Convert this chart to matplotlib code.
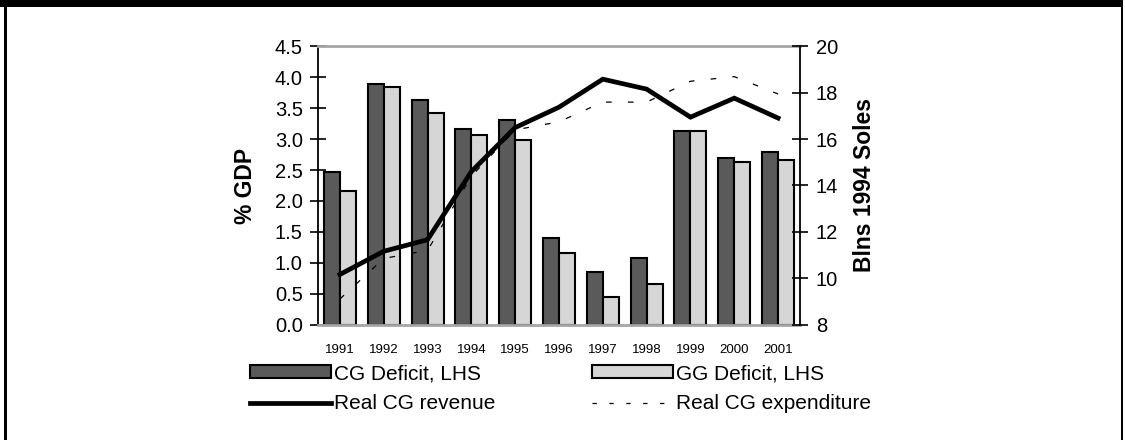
import matplotlib
matplotlib.use("Agg")
import matplotlib.pyplot as plt
import numpy as np
from matplotlib.patches import Patch, Rectangle
from matplotlib.lines import Line2D

plt.rcParams['font.family'] = ['Liberation Sans', 'DejaVu Sans']

years = ['1991', '1992', '1993', '1994', '1995', '1996',
         '1997', '1998', '1999', '2000', '2001']
cg_deficit = [2.47, 3.90, 3.63, 3.16, 3.31, 1.40, 0.85, 1.08, 3.14, 2.70, 2.79]
gg_deficit = [2.16, 3.85, 3.43, 3.07, 2.98, 1.15, 0.45, 0.65, 3.13, 2.63, 2.66]
cg_revenue = [10.16, 11.16, 11.66, 14.6, 16.5, 17.38, 18.59, 18.16, 16.95, 17.77, 16.91]
cg_expenditure = [9.1, 10.85, 11.2, 14.4, 16.4, 16.75, 17.6, 17.6, 18.5, 18.7, 17.95]

left_ticks = [0.0, 0.5, 1.0, 1.5, 2.0, 2.5, 3.0, 3.5, 4.0, 4.5]
right_ticks = [8, 10, 12, 14, 16, 18, 20]

dark = '#5a5a5a'
light = '#d6d6d6'
spine_grey = '#a6a6a6'

W, H = 1125, 440
fig = plt.figure(figsize=(W / 100, H / 100), dpi=100)
ax = fig.add_axes([318 / W, 1 - 324.5 / H, (800 - 318) / W, (324.5 - 46.5) / H])

x = np.arange(len(years))
bw = 0.365
ax.bar(x - bw / 2, cg_deficit, bw, color=dark, edgecolor='black', linewidth=1.5, zorder=2)
ax.bar(x + bw / 2, gg_deficit, bw, color=light, edgecolor='black', linewidth=1.5, zorder=2)

ax.set_xlim(-0.5, len(years) - 0.5)
ax.set_ylim(0, 4.5)
ax.set_yticks(left_ticks)
ax.set_yticklabels([f'{v:.1f}' for v in left_ticks])
ax.set_xticks(x)
ax.set_xticklabels(years)
ax.tick_params(axis='x', length=0, pad=14, labelsize=9.5)
ax.tick_params(axis='y', direction='inout', length=11, width=1.2, labelsize=14.5, pad=5.5)

for side in ('top', 'bottom'):
    ax.spines[side].set_color(spine_grey)
    ax.spines[side].set_linewidth(2)
ax.spines['left'].set_linewidth(1.3)
ax.spines['right'].set_visible(False)

ax.set_ylabel('% GDP', fontsize=16.5, fontweight='bold')
ax.yaxis.set_label_coords(-0.127, 0.5)

ax2 = ax.twinx()
ax2.set_ylim(8, 20)
ax2.set_yticks(right_ticks)
ax2.plot(x, cg_revenue, color='black', linewidth=3.4, solid_joinstyle='miter', zorder=3)
ax2.plot(x, cg_expenditure, color='black', linewidth=0.9, linestyle=(0, (4.5, 13)), zorder=3)
ax2.tick_params(axis='y', direction='inout', length=11, width=1.2, labelsize=14.5, pad=6)
for side in ('top', 'bottom', 'left'):
    ax2.spines[side].set_visible(False)
ax2.spines['right'].set_linewidth(1.3)
ax2.set_ylabel('Blns 1994 Soles', fontsize=16.5, fontweight='bold')
ax2.yaxis.set_label_coords(1.110, 0.5)

handles = [
    Patch(facecolor=dark, edgecolor='black', linewidth=1.5),
    Line2D([], [], color='black', linewidth=3.4),
    Patch(facecolor=light, edgecolor='black', linewidth=1.5),
    Line2D([], [], color='black', linewidth=0.9, linestyle=(0, (3.5, 10))),
]
labels = ['CG Deficit, LHS', 'Real CG revenue', 'GG Deficit, LHS', 'Real CG expenditure']
fig.legend(handles, labels, ncol=2, loc='upper left',
           bbox_to_anchor=(250 / W, 1 - 364 / H), frameon=False,
           fontsize=15, handlelength=3.9, handleheight=0.55,
           handletextpad=0.15, columnspacing=4.6, labelspacing=0.55,
           borderpad=0, borderaxespad=0)

# frame around the figure
fig.add_artist(Rectangle((0, 1 - 7 / H), 1123 / W, 7 / H, transform=fig.transFigure,
                         facecolor='black', edgecolor='none'))
fig.add_artist(Rectangle((4 / W, 0), 3 / W, 1, transform=fig.transFigure,
                         facecolor='black', edgecolor='none'))
fig.add_artist(Rectangle((1120.5 / W, 0), 2.5 / W, 1, transform=fig.transFigure,
                         facecolor='black', edgecolor='none'))

fig.savefig('out.png', dpi=100)
